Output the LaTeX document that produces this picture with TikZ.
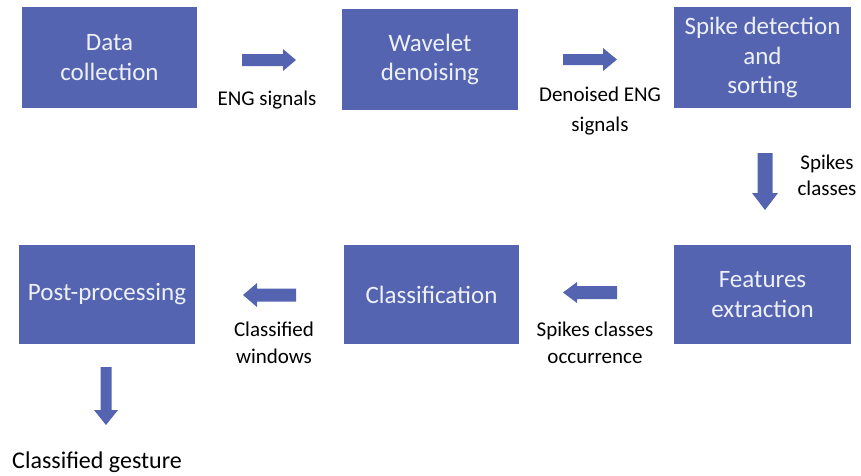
\documentclass[tikz,border=0pt]{standalone}
\usepackage{fontspec}
\setmainfont{Carlito}
\usetikzlibrary{calc}

\definecolor{boxblue}{RGB}{84,100,177}
\definecolor{boxtext}{RGB}{238,240,247}

\tikzset{
  stage/.style={rectangle, fill=boxblue, draw=none, text=boxtext,
    align=center, inner sep=0pt, font=\fontsize{25}{29.5}\selectfont},
  tag/.style={align=center, inner sep=0pt, text=black,
    font=\fontsize{21}{27}\selectfont},
  % block arrow pointing along +x, centred on the pic origin:
  % #1 length, #2 shaft half-width, #3 head half-width, #4 head length
  pics/blockarrow/.style n args={4}{code={
    \fill[boxblue] (-#1/2,-#2) -- (#1/2-#4,-#2) -- (#1/2-#4,-#3) -- (#1/2,0)
      -- (#1/2-#4,#3) -- (#1/2-#4,#2) -- (-#1/2,#2) -- cycle;
  }}
}

\begin{document}
\begin{tikzpicture}[x=1pt,y=-1pt]
\useasboundingbox (0,0) rectangle (861,475);

% processing stages, top row
\node[stage, minimum width=175pt, minimum height=101pt] (dc) at (109.5,57.5) {Data\\collection};
\node[stage, minimum width=176pt, minimum height=101pt] (wd) at (430,59.5) {Wavelet\\denoising};
\node[stage, minimum width=177pt, minimum height=101pt] (sd) at (762.5,57.5) {Spike detection\\and\\sorting};

% processing stages, bottom row
\node[stage, minimum width=176pt, minimum height=99pt] (pp) at (107,294.5) {Post-processing};
\node[stage, minimum width=175pt, minimum height=99pt] (cl) at (431.5,294.5) {Classification};
\node[stage, minimum width=177pt, minimum height=99pt] (fe) at (762.5,294.5) {Features\\extraction};

% block arrows between the stages
\pic (a1) at (269,60) {blockarrow={54}{6}{11}{13}};
\pic (a2) at (590,59.5) {blockarrow={54}{5.5}{11.5}{14}};
\pic[rotate=-90] (a3) at (765,181.5) {blockarrow={57}{7.5}{13}{17}};
\pic[rotate=180] (a4) at (590,292.5) {blockarrow={54}{6.5}{10.5}{14}};
\pic[rotate=180] (a5) at (269.5,295) {blockarrow={53}{6.5}{12}{14}};
\pic[rotate=-90] (a6) at (106,396) {blockarrow={58}{5.5}{12}{15}};

% data carried along each arrow
\node[tag] (l1) at (267,100) {ENG signals};
\node[tag, font=\fontsize{21}{30}\selectfont] (l2) at (600,111) {Denoised ENG\\signals};
\node[tag, font=\fontsize{21}{26}\selectfont] (l3) at (827,175) {Spikes\\classes};
\node[tag] (l4) at (595,343) {Spikes classes\\occurrence};
\node[tag] (l5) at (274,342.5) {Classified\\windows};
\node[tag, font=\fontsize{24}{29}\selectfont] (l6) at (97,462) {Classified gesture};
\end{tikzpicture}
\end{document}
